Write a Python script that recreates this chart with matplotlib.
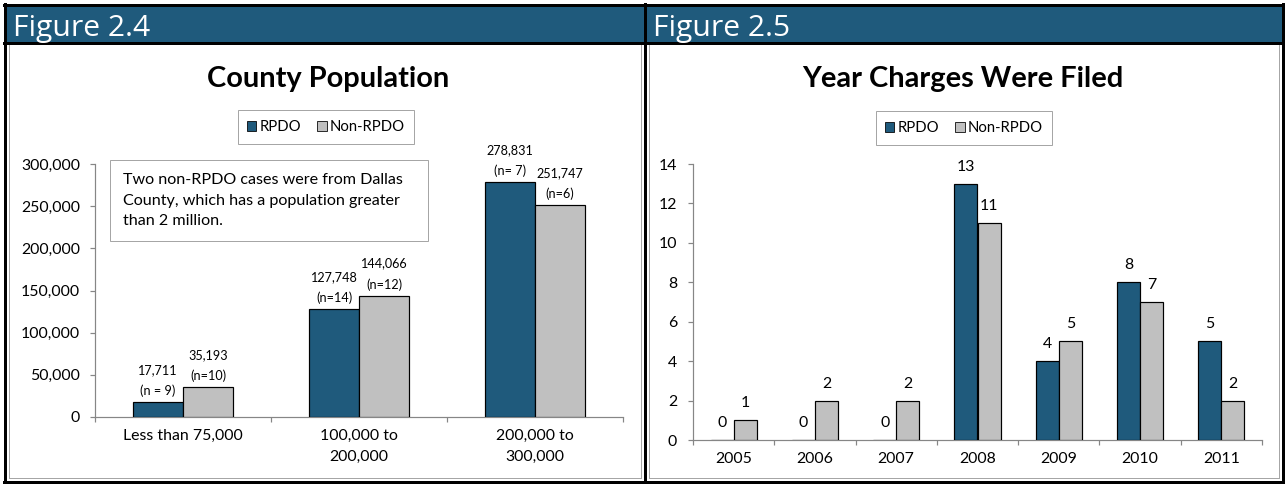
import matplotlib
matplotlib.use("Agg")
import matplotlib.pyplot as plt
from matplotlib.font_manager import FontProperties
from matplotlib.textpath import TextToPath
from matplotlib.patches import Rectangle, Patch
from matplotlib.ticker import FuncFormatter, FixedLocator
import numpy as np

# ---------------- data ----------------
pop_categories = ["Less than 75,000", "100,000 to\n200,000", "200,000 to\n300,000"]
pop_rpdo = [17711, 127748, 278831]
pop_non = [35193, 144066, 251747]
pop_rpdo_n = ["(n = 9)", "(n=14)", "(n= 7)"]
pop_non_n = ["(n=10)", "(n=12)", "(n=6)"]
pop_yticks = [0, 50000, 100000, 150000, 200000, 250000, 300000]

years = ["2005", "2006", "2007", "2008", "2009", "2010", "2011"]
year_rpdo = [0, 0, 0, 13, 4, 8, 5]
year_non = [1, 2, 2, 11, 5, 7, 2]
year_yticks = [0, 2, 4, 6, 8, 10, 12, 14]

series_names = ["RPDO", "Non-RPDO"]
note_text = "Two non-RPDO cases were from Dallas\nCounty, which has a population greater\nthan 2 million."

# ---------------- style ----------------
DPI = 100
W, H = 1285, 484
FONT = "Lato"
HFONT = "Open Sans"
BLUE = "#1F5A7C"
HEADER = "#1F5A7C"
GRAY = "#C0C0C0"
AXCOL = "#868686"
PX = 72.0 / DPI  # points per pixel

_t2p = TextToPath()


def _metrics(s, family, weight="normal", size=10):
    fp = FontProperties(family=family, weight=weight, size=size)
    w, h, d = _t2p.get_text_width_height_descent(s, fp, ismath=False)
    return w / PX, h / PX, d / PX


def fit(s, family, target_px, weight="normal"):
    w, _, _ = _metrics(s, family, weight, 10)
    return 10 * target_px / w


def linesp(family, size, pitch_px, weight="normal"):
    _, h, d = _metrics("lp", family, weight, size)
    return (pitch_px - d) / (h - d)


fs_tick = fit("300,000", FONT, 59)
fs_val = fit("127,748", FONT, 47)
fs_note = fit("Two non-RPDO cases were from Dallas", FONT, 281)
fs_title = 0.5 * (fit("County Population", FONT, 243, "bold") + fit("Year Charges Were Filed", FONT, 320, "bold"))
fs_leg = fit("Non-RPDO", FONT, 75)
fs_head = fit("Figure 2.4", HFONT, 137)

plt.rcParams["font.family"] = [FONT, "DejaVu Sans"]

fig = plt.figure(figsize=(W / DPI, H / DPI), dpi=DPI)
fig.patch.set_facecolor("white")

bg = fig.add_axes([0, 0, 1, 1], zorder=0)
bg.set_xlim(0, W)
bg.set_ylim(H, 0)
bg.axis("off")

fg = fig.add_axes([0, 0, 1, 1], zorder=5)
fg.set_xlim(0, W)
fg.set_ylim(H, 0)
fg.axis("off")
fg.patch.set_visible(False)

# panel frames and headers
for x0, x1, label in [(5, 645, "Figure 2.4"), (645, 1283, "Figure 2.5")]:
    bg.add_patch(Rectangle((x0, 5), x1 - x0, 38, facecolor=HEADER, edgecolor="none"))
    bg.text(x0 + 8, 36, label, color="white", fontsize=fs_head, family=HFONT, va="baseline", ha="left")
blk = dict(color="black", lw=3 * PX, solid_capstyle="projecting")
bg.plot([4, 1283], [5, 5], **blk)
bg.plot([4, 1283], [43, 43], **blk)
bg.plot([4, 1283], [481.5, 481.5], **blk)
for x in [5, 645, 1283]:
    bg.plot([x, x], [4, 482], **blk)
gr = dict(color="#A6A6A6", lw=1 * PX)
for x in [9, 641, 649, 1279]:
    bg.plot([x, x], [45, 478], **gr)
bg.plot([9, 641], [478, 478], **gr)
bg.plot([649, 1279], [478, 478], **gr)


def style_axes(ax, n, yticks, ypad_px, fmt):
    ax.patch.set_visible(False)
    for s in ["top", "right"]:
        ax.spines[s].set_visible(False)
    for s in ["left", "bottom"]:
        ax.spines[s].set_color(AXCOL)
        ax.spines[s].set_linewidth(1.2 * PX)
    ax.set_xlim(-0.5, n - 0.5)
    ax.set_ylim(yticks[0], yticks[-1])
    ax.set_yticks(yticks)
    ax.yaxis.set_major_formatter(FuncFormatter(fmt))
    ax.tick_params(axis="y", direction="out", length=5 * PX, width=1.2 * PX, color=AXCOL,
                   labelsize=fs_tick, pad=ypad_px * PX, labelcolor="black")
    ax.xaxis.set_major_locator(FixedLocator(np.arange(n + 1) - 0.5))
    ax.xaxis.set_minor_locator(FixedLocator(np.arange(n)))
    ax.tick_params(axis="x", which="major", direction="out", length=5 * PX, width=1.2 * PX,
                   color=AXCOL, labelbottom=False)
    ax.tick_params(axis="x", which="minor", length=0, labelsize=fs_tick, pad=12 * PX,
                   labelcolor="black")


BW = 0.284

# ---------------- left chart ----------------
axL = fig.add_axes([95 / W, (H - 417) / H, 528 / W, 253 / H], zorder=2)
xL = np.arange(len(pop_categories))
axL.bar(xL - BW / 2, pop_rpdo, BW, color=BLUE, edgecolor="black", lw=1.2 * PX, zorder=3)
axL.bar(xL + BW / 2, pop_non, BW, color=GRAY, edgecolor="black", lw=1.2 * PX, zorder=3)
style_axes(axL, len(pop_categories), pop_yticks, 10, lambda v, p: f"{int(v):,}")
ls_x = linesp(FONT, fs_tick, 22)
axL.set_xticks(xL, pop_categories, minor=True)
for t in axL.get_xticklabels(minor=True):
    t.set_linespacing(ls_x)
ls_val = linesp(FONT, fs_val, 19)
for xs, vals, ns in [(xL - BW / 2, pop_rpdo, pop_rpdo_n), (xL + BW / 2, pop_non, pop_non_n)]:
    for xi, v, nl in zip(xs, vals, ns):
        axL.annotate(f"{v:,}\n{nl}", (xi, v), xytext=(0, 5 * PX), textcoords="offset points",
                     ha="center", va="bottom", fontsize=fs_val, linespacing=ls_val)

# ---------------- right chart ----------------
axR = fig.add_axes([693 / W, (H - 440) / H, 569 / W, 276 / H], zorder=2)
xR = np.arange(len(years))
axR.bar(xR - BW / 2, year_rpdo, BW, color=BLUE, edgecolor="black", lw=1.2 * PX, zorder=3)
axR.bar(xR + BW / 2, year_non, BW, color=GRAY, edgecolor="black", lw=1.2 * PX, zorder=3)
style_axes(axR, len(years), year_yticks, 11, lambda v, p: f"{int(v)}")
axR.set_xticks(xR, years, minor=True)
for xs, vals in [(xR - BW / 2, year_rpdo), (xR + BW / 2, year_non)]:
    for xi, v in zip(xs, vals):
        axR.annotate(f"{v}", (xi, v), xytext=(0, 17 * PX), textcoords="offset points",
                     ha="center", va="center", fontsize=fs_tick)

# ---------------- titles, legends, note ----------------
fg.text(328, 87.5, "County Population", fontsize=fs_title, weight="bold", ha="center", va="baseline")
fg.text(963, 87.5, "Year Charges Were Filed", fontsize=fs_title, weight="bold", ha="center", va="baseline")

handles = [Patch(facecolor=BLUE, edgecolor="black", lw=0.8 * PX),
           Patch(facecolor=GRAY, edgecolor="black", lw=0.8 * PX)]
for ax, cx, cy in [(axL, 326, 127), (axR, 964, 128)]:
    leg = ax.legend(handles, series_names, ncol=2, loc="center", bbox_to_anchor=(cx, cy),
                    bbox_transform=fg.transData, fontsize=fs_leg, frameon=True, fancybox=False,
                    framealpha=1, edgecolor="#A6A6A6", handlelength=0.62, handleheight=0.62,
                    handletextpad=0.2, columnspacing=1.1, borderpad=0.65, borderaxespad=0)
    leg.get_frame().set_linewidth(1 * PX)
    leg.set_zorder(10)

fg.add_patch(Rectangle((110, 160), 318, 81, facecolor="white", edgecolor="#A6A6A6", lw=1 * PX))
ls_note = linesp(FONT, fs_note, 21.5)
fg.text(123, 200.5, note_text, fontsize=fs_note, ha="left", va="center", linespacing=ls_note)

fig.savefig("out.png", dpi=DPI, facecolor="white")
